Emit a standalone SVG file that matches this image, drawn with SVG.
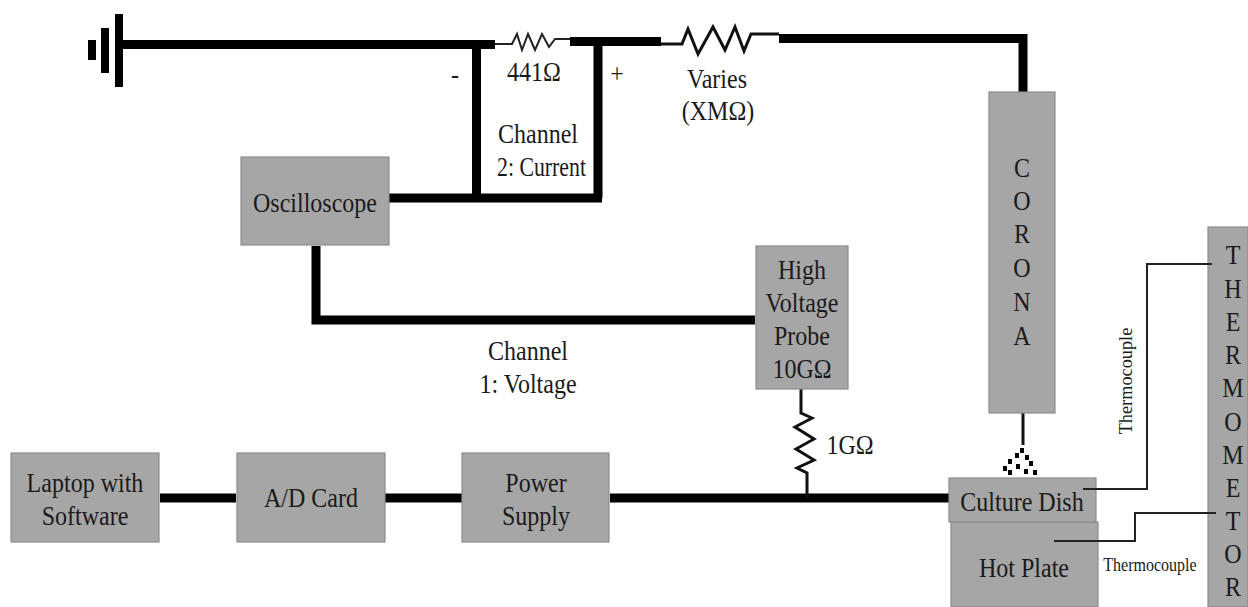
<svg xmlns="http://www.w3.org/2000/svg" width="1248" height="607" viewBox="0 0 1248 607">
<style>
text{font-family:"Liberation Serif","Times New Roman",serif;font-size:27px;fill:#1a1a1a;text-anchor:middle;transform-box:fill-box;transform-origin:center;transform:scaleX(.89)}
.b{fill:#a6a6a6;stroke:#8c8c8c;stroke-width:1.2}
.w{fill:none;stroke:#000;stroke-width:9}
.m{fill:none;stroke:#111;stroke-width:3}
.t{fill:none;stroke:#222;stroke-width:2}
text.s{font-size:18px}
text.r{font-size:18.300px;transform:none}
text.n{transform:none}
</style>
<rect width="1248" height="607" fill="#fff"/>
<g id="connectors">
<path class="w" d="M122 44.500H495"/>
<path d="M88 40h8v20h-8zM101 28h8v45h-8zM115 14h8v73h-8z" fill="#000"/>
<path class="w" d="M476.500 45V198M389 198H602M598 42V198M570 41.500H661M779 38.500H1023V92M316 246V320H755M160 498H236M385 498H462M610 498H949"/>
<path class="t" d="M495 44H512L517 34L522 50L528 34L535 50L542 34L549 47L555 39H570"/>
<path class="m" d="M661 44H682L688 29L698 54L713 27L725 50L735 27L744 51L751 34H779"/>
<path class="m" d="M1023 413V445"/>
<path class="m" d="M801 389V413L812 418L795 427L814 439L796 449L814 460L797 468L807 473V498"/>
<path d="M1020 448h4v5h-4zM1015 453h4v5h-4zM1025 455h4v5h-4zM1008 459h4v5h-4zM1029 461h4v5h-4zM1003 466h4v5h-4zM1016 464h4v5h-4zM1008 470h4v5h-4zM1024 469h4v5h-4zM1033 470h4v5h-4z" fill="#000"/>
</g>
<g id="oscilloscope"><rect class="b" x="241" y="157" width="148" height="88"/><text x="315" y="212">Oscilloscope</text></g>
<g id="probe"><rect class="b" x="756" y="246" width="92" height="143"/><text x="802" y="279">High</text><text x="802" y="312">Voltage</text><text x="802" y="345">Probe</text><text x="802" y="378">10GΩ</text></g>
<g id="corona"><rect class="b" x="989" y="92" width="66" height="321"/><text x="1022" y="177">C</text><text x="1022" y="210">O</text><text x="1022" y="243">R</text><text x="1022" y="277">O</text><text x="1022" y="311">N</text><text x="1022" y="345">A</text></g>
<g id="laptop"><rect class="b" x="11" y="453" width="148" height="89"/><text x="85" y="492">Laptop with</text><text x="85" y="525">Software</text></g>
<g id="ad-card"><rect class="b" x="237" y="453" width="148" height="89"/><text x="311" y="507">A/D Card</text></g>
<g id="power-supply"><rect class="b" x="462" y="453" width="147" height="89"/><text x="536" y="492">Power</text><text x="536" y="525">Supply</text></g>
<g id="hot-plate"><rect class="b" x="951" y="522" width="147" height="85"/><text x="1024" y="577">Hot Plate</text></g>
<g id="culture-dish"><rect class="b" x="949" y="478" width="147" height="44"/><text x="1022" y="511">Culture Dish</text></g>
<g id="thermometer"><rect class="b" x="1208" y="227" width="40" height="380"/>
<text x="1233" y="264">T</text><text x="1233" y="298">H</text><text x="1233" y="331">E</text><text x="1233" y="364">R</text><text x="1233" y="397">M</text><text x="1233" y="431">O</text><text x="1233" y="464">M</text><text x="1233" y="497">E</text><text x="1233" y="530">T</text><text x="1233" y="563">O</text><text x="1233" y="596">R</text></g>
<g id="thermocouple-wires">
<path class="t" d="M1083 489H1147V264H1212"/>
<path class="t" d="M1054 541H1135V513H1216"/>
</g>
<g id="labels">
<text x="534" y="81">441Ω</text>
<text x="455" y="83">-</text>
<text x="617" y="83">+</text>
<text x="717" y="88">Varies</text>
<text x="718" y="120">(XMΩ)</text>
<text x="538" y="143">Channel</text>
<text class="n" x="541.500" y="176" textLength="89" lengthAdjust="spacingAndGlyphs">2: Current</text>
<text x="528" y="360">Channel</text>
<text x="528" y="393">1: Voltage</text>
<text x="850" y="454">1GΩ</text>
<text class="s" x="1150" y="571">Thermocouple</text>
<g transform="translate(1132 381) rotate(-90)"><text class="r" x="0" y="0">Thermocouple</text></g>
</g>
</svg>
